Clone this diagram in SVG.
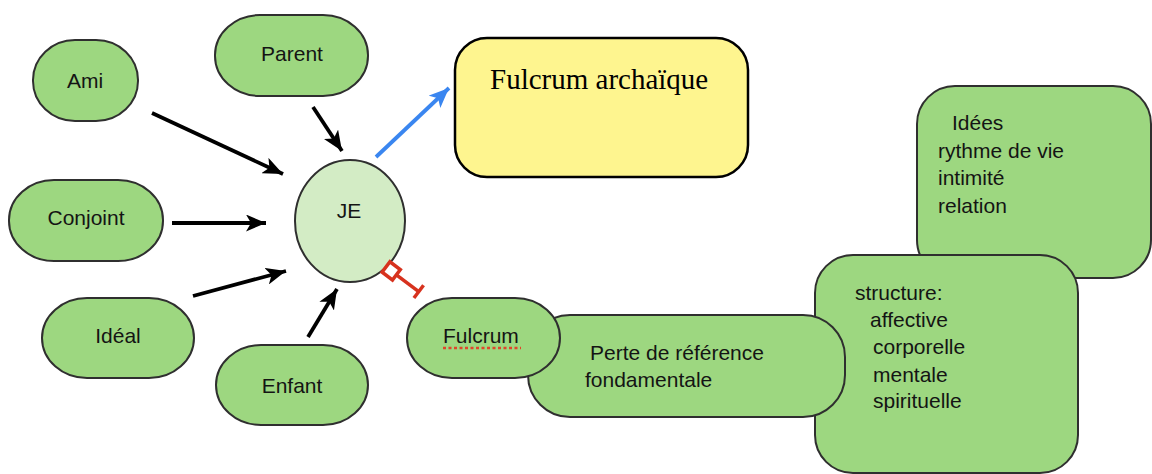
<svg xmlns="http://www.w3.org/2000/svg" width="1152" height="474" viewBox="0 0 1152 474">
<style>
.n{fill:#9dd780;stroke:#2f2f2f;stroke-width:2}
.t{font-family:"Liberation Sans",Arial,sans-serif;font-size:21px;fill:#141414}
.c{text-anchor:middle}
.k{stroke:#000;stroke-width:3.8;fill:none}
</style>
<defs>
<marker id="ab" viewBox="0 0 20 17" refX="20" refY="8.5" markerWidth="20" markerHeight="17" markerUnits="userSpaceOnUse" orient="auto"><path d="M0,0 L20,8.5 L0,17 L5,8.5 z" fill="#000"/></marker>
<marker id="ablue" viewBox="0 0 20 17" refX="20" refY="8.5" markerWidth="20" markerHeight="17" markerUnits="userSpaceOnUse" orient="auto"><path d="M0,0 L20,8.5 L0,17 L5,8.5 z" fill="#3a86f0"/></marker>
</defs>
<rect width="1152" height="474" fill="#fff"/>
<g id="ami"><rect class="n" x="33" y="40" width="105" height="81" rx="42" ry="40"/><text class="t c" x="85" y="88">Ami</text></g>
<g id="parent"><rect class="n" x="215" y="15" width="153" height="81" rx="45" ry="40"/><text class="t c" x="292" y="61">Parent</text></g>
<g id="conjoint"><rect class="n" x="9" y="180" width="154" height="81" rx="45" ry="40"/><text class="t c" x="86" y="225">Conjoint</text></g>
<g id="ideal"><rect class="n" x="42" y="298" width="152" height="80" rx="45" ry="40"/><text class="t c" x="118" y="343">Idéal</text></g>
<g id="enfant"><rect class="n" x="216" y="345" width="152" height="80" rx="45" ry="40"/><text class="t c" x="292" y="393">Enfant</text></g>
<g id="je"><ellipse cx="350" cy="221" rx="55" ry="61" fill="#d3ecc5" stroke="#2f2f2f" stroke-width="2"/><text class="t c" x="349" y="218">JE</text></g>
<g id="archaique"><rect x="455" y="38" width="293" height="139" rx="32" fill="#fef58f" stroke="#000" stroke-width="2.5"/><text x="490" y="89" font-family="Liberation Serif,'Times New Roman',serif" font-size="29" fill="#000">Fulcrum archaïque</text></g>
<g id="idees"><rect class="n" x="917" y="86" width="234" height="192" rx="38"/><text class="t"><tspan x="952" y="130">Idées</tspan><tspan x="938" y="158">rythme de vie</tspan><tspan x="938" y="185">intimité</tspan><tspan x="938" y="213">relation</tspan></text></g>
<g id="structure"><rect class="n" x="815" y="255" width="263" height="218" rx="38"/><text class="t"><tspan x="855" y="300">structure:</tspan><tspan x="870" y="327">affective</tspan><tspan x="873" y="354">corporelle</tspan><tspan x="873" y="382">mentale</tspan><tspan x="873" y="408">spirituelle</tspan></text></g>
<g id="perte"><rect class="n" x="528" y="315" width="317" height="102" rx="42"/><text class="t"><tspan x="590" y="360">Perte de référence</tspan><tspan x="585" y="387">fondamentale</tspan></text></g>
<g id="fulcrum"><rect class="n" x="407" y="298" width="153" height="80" rx="45" ry="40"/><text class="t" x="443" y="343">Fulcrum</text><line x1="443" y1="348" x2="521" y2="348" stroke="#e0452a" stroke-width="2.5" stroke-dasharray="3,2.5"/></g>
<g id="connectors">
<line class="k" x1="152" y1="113" x2="283" y2="174" marker-end="url(#ab)"/>
<line class="k" x1="313" y1="107" x2="342" y2="151" marker-end="url(#ab)"/>
<line class="k" x1="172" y1="223" x2="266" y2="223" marker-end="url(#ab)"/>
<line class="k" x1="193" y1="296" x2="286" y2="271" marker-end="url(#ab)"/>
<line class="k" x1="308" y1="337" x2="337" y2="289" marker-end="url(#ab)"/>
<line x1="376" y1="157" x2="449" y2="88" stroke="#3a86f0" stroke-width="3.8" marker-end="url(#ablue)"/>
<g transform="translate(386,267) rotate(37)" stroke="#d7321e" stroke-width="3.5" fill="#fff"><rect x="0" y="-6.5" width="13" height="13"/><line x1="13" y1="0" x2="41" y2="0"/><line x1="41" y1="-8" x2="41" y2="8"/></g>
</g>
</svg>
